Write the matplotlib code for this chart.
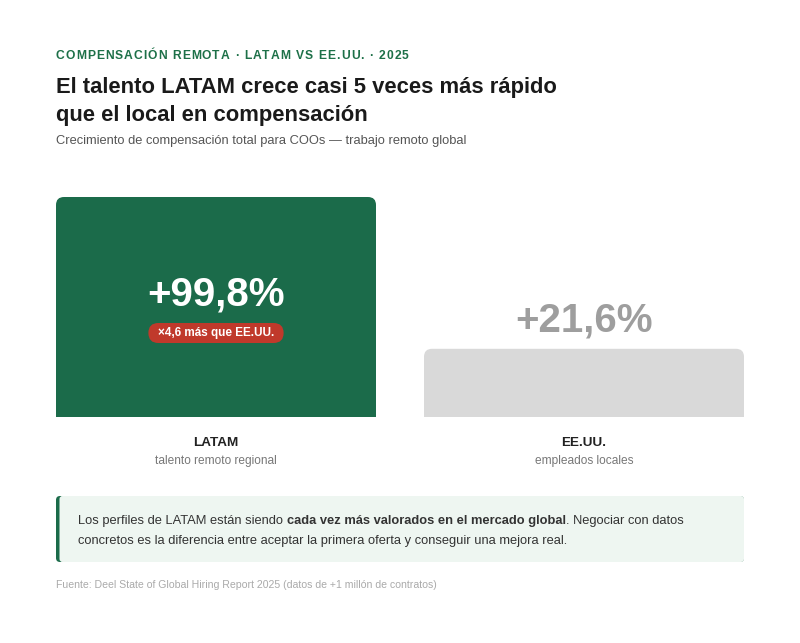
import matplotlib
matplotlib.use("Agg")
from matplotlib import pyplot as plt
from matplotlib.patches import FancyBboxPatch
from matplotlib.transforms import IdentityTransform

plt.rcParams['font.family'] = ['Liberation Sans', 'DejaVu Sans']

# data
categories = ["LATAM", "EE.UU."]
sublabels = ["talento remoto regional", "empleados locales"]
growth = [99.8, 21.6]

eyebrow = "COMPENSACIÓN REMOTA · LATAM VS EE.UU. · 2025"
title_lines = ["El talento LATAM crece casi 5 veces más rápido",
               "que el local en compensación"]
subtitle = "Crecimiento de compensación total para COOs — trabajo remoto global"
note_runs = [
    [("Los perfiles de LATAM están siendo ", "normal"),
     ("cada vez más valorados en el mercado global", "bold"),
     (". Negociar con datos", "normal")],
    [("concretos es la diferencia entre aceptar la primera oferta y conseguir una mejora real.", "normal")],
]
source = "Fuente: Deel State of Global Hiring Report 2025 (datos de +1 millón de contratos)"

GREEN = "#1b6b4a"
GREY_BAR = "#d9d9d9"
GREY_NUM = "#9e9e9e"
RED = "#c0392b"

W, H = 800, 643
fig = plt.figure(figsize=(W / 100, H / 100), dpi=100)
fig.patch.set_facecolor("white")

# full-figure overlay in pixel coordinates
bg = fig.add_axes([0, 0, 1, 1])
bg.set_xlim(0, W)
bg.set_ylim(H, 0)
bg.axis("off")
renderer = fig.canvas.get_renderer()


def text_width(s, size, weight):
    t = bg.text(0, 0, s, fontsize=size, fontweight=weight)
    w = t.get_window_extent(renderer).width
    t.remove()
    return w


def draw_runs(x, y, runs, size, color, spacing=0.0):
    space_w = None
    for txt, weight in runs:
        if txt == " ":
            if space_w is None:
                space_w = text_width("x x", size, weight) - text_width("xx", size, weight)
            x += space_w + spacing
            continue
        t = bg.text(x, y, txt, fontsize=size, fontweight=weight, color=color,
                    ha="left", va="baseline")
        x += t.get_window_extent(renderer).width + spacing
    return x


# header
draw_runs(56, 59, [(c, "bold") for c in eyebrow], 8.7, "#1d7048", spacing=1.0)
for i, line in enumerate(title_lines):
    bg.text(56, 93 + i * 28, line, fontsize=15.8, fontweight="bold",
            color="#1a1a1a", va="baseline")
bg.text(56, 144, subtitle, fontsize=9.3, color="#555555", va="baseline")

# bars
ax = fig.add_axes([56 / W, (H - 417) / H, 688 / W, 220 / H])
ax.axis("off")
unit_px = 368.0
ax.set_xlim(-160 / unit_px, 1 + 160 / unit_px)
vmax = max(growth)
ax.set_ylim(0, vmax)
bar_w = 320 / unit_px
x_per_px = 1 / unit_px
y_per_px = vmax / 220
min_h = 0.31 * vmax  # minimum visible bar height
colors = [GREEN, GREY_BAR]

for i, v in enumerate(growth):
    h = max(v, min_h)
    p = FancyBboxPatch((i - bar_w / 2, -10), bar_w, h + 10,
                       boxstyle=f"round,pad=0,rounding_size={8 * x_per_px}",
                       mutation_aspect=y_per_px / x_per_px,
                       facecolor=colors[i], edgecolor="none", clip_on=True)
    ax.add_patch(p)
    label = f"+{v:.1f}%".replace(".", ",")
    if i == 0:
        ax.annotate(label, xy=(i, h / 2), xytext=(0, 2), textcoords="offset pixels",
                    ha="center", va="baseline", fontsize=29, fontweight="bold",
                    color="white")
        ratio = growth[0] / growth[1]
        badge = f"×{ratio:.1f} más que {categories[1]}".replace(".", ",", 1)
        bt = ax.annotate(badge, xy=(i, h / 2), xytext=(0, -28.5),
                         textcoords="offset pixels", ha="center", va="baseline",
                         fontsize=8.5, fontweight="bold", color="white", zorder=5)
        ext = bt.get_window_extent(renderer)
        cx = (ext.x0 + ext.x1) / 2
        cy = (ext.y0 + ext.y1) / 2 - 0.5
        pw, ph = ext.width + 19, 20
        ax.add_patch(FancyBboxPatch((cx - pw / 2, cy - ph / 2), pw, ph,
                                    boxstyle="round,pad=0,rounding_size=10",
                                    transform=IdentityTransform(),
                                    facecolor=RED, edgecolor="none",
                                    zorder=3, clip_on=False))
    else:
        ax.annotate(label, xy=(i, h), xytext=(0, 17), textcoords="offset pixels",
                    ha="center", va="baseline", fontsize=29, fontweight="bold",
                    color=GREY_NUM)
    ax.annotate(categories[i], xy=(i, 0), xytext=(0, -29), textcoords="offset pixels",
                ha="center", va="baseline", fontsize=9.7, fontweight="bold",
                color="#222222", annotation_clip=False)
    ax.annotate(sublabels[i], xy=(i, 0), xytext=(0, -47), textcoords="offset pixels",
                ha="center", va="baseline", fontsize=8.6, color="#777777",
                annotation_clip=False)

# callout
bg.add_patch(FancyBboxPatch((56, 496), 688, 66,
                            boxstyle="round,pad=0,rounding_size=4",
                            facecolor=GREEN, edgecolor="none"))
bg.add_patch(FancyBboxPatch((59.5, 496), 684.5, 66,
                            boxstyle="round,pad=0,rounding_size=3",
                            facecolor="#eef6f1", edgecolor="none"))
for i, runs in enumerate(note_runs):
    draw_runs(78, 524 + i * 20, runs, 9.3, "#333333")

bg.text(56, 588, source, fontsize=7.55, color="#aaaaaa", va="baseline")

fig.savefig("out.png", dpi=100, facecolor="white")
